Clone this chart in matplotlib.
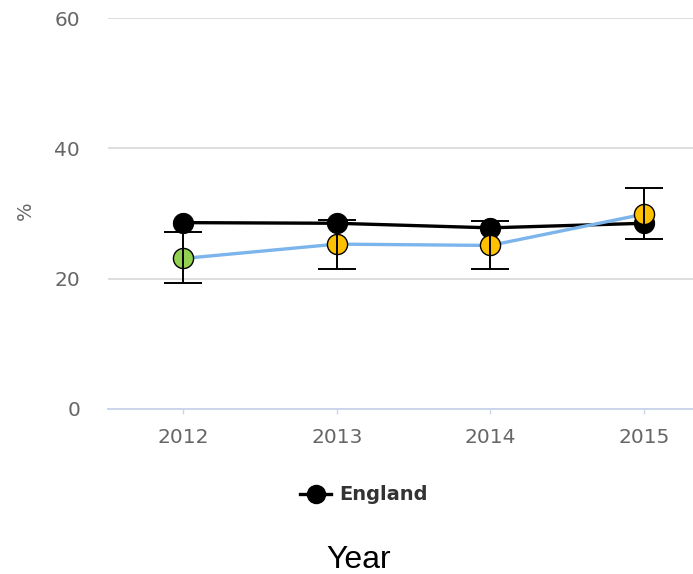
import matplotlib
matplotlib.use("Agg")
import matplotlib.pyplot as plt
from matplotlib.lines import Line2D

plt.rcParams["font.family"] = ["DejaVu Sans"]

years = ["2012", "2013", "2014", "2015"]
england = [28.6, 28.5, 27.8, 28.5]
area = [23.1, 25.3, 25.1, 29.9]
area_low = [19.3, 21.5, 21.5, 26.1]
area_high = [27.2, 29.0, 28.9, 33.9]
area_colors = ["#92d050", "#ffc000", "#ffc000", "#ffc000"]
y_ticks = [0, 20, 40, 60]

fig = plt.figure(figsize=(6.93, 5.74), dpi=100)
ax = fig.add_axes([108 / 693, 1 - 409 / 574, 585 / 693, 391 / 574])

x = list(range(len(years)))

# England comparator
ax.plot(x, england, color="black", lw=2.4, zorder=3, solid_capstyle="butt")
ax.plot(x, england, "o", ms=14.5, mfc="black", mec="black", mew=0.8, zorder=4)

# Local values with confidence intervals
ax.plot(x, area, color="#7cb5ec", lw=2.4, zorder=5)
for xi, yi, c in zip(x, area, area_colors):
    ax.plot([xi], [yi], "o", ms=14.5, mfc=c, mec="black", mew=1.0, zorder=6)
err_lo = [v - lo for v, lo in zip(area, area_low)]
err_hi = [hi - v for v, hi in zip(area, area_high)]
ax.errorbar(x, area, yerr=[err_lo, err_hi], fmt="none", ecolor="black",
            elinewidth=1.4, capsize=13.5, capthick=1.4, zorder=7)

ax.set_xlim(-0.49, 3.32)
ax.set_ylim(0, 60)
ax.set_yticks(y_ticks)
ax.set_xticks(x)
ax.set_xticklabels(years)
ax.yaxis.grid(True, color="#d8d8d8", lw=1.2)
ax.set_axisbelow(True)
for s in ["top", "right", "left"]:
    ax.spines[s].set_visible(False)
ax.spines["bottom"].set_color("#ccd6eb")
ax.spines["bottom"].set_linewidth(1.4)
ax.spines["bottom"].set_zorder(2)
ax.tick_params(axis="y", length=0, pad=20, labelsize=14.5, labelcolor="#666666")
ax.tick_params(axis="x", length=3.5, width=1, color="#ccd6eb", pad=10,
               labelsize=14.5, labelcolor="#666666")

fig.text(25 / 693, 1 - 211 / 574, "%", rotation=90, ha="center", va="center",
         fontsize=14, color="#666666")

handle = Line2D([0], [0], color="black", lw=2.4, marker="o", ms=13, mfc="black")
fig.legend([handle], ["England"], loc="center", bbox_to_anchor=(0.525, 1 - 495 / 574),
           frameon=False, prop={"weight": "bold", "size": 14},
           labelcolor="#333333", handlelength=1.6, handletextpad=0.4)

fig.text(0.518, 1 - 560 / 574, "Year", ha="center", va="center",
         fontsize=23, family="Liberation Sans", color="black")

fig.savefig("out.png", dpi=100)
